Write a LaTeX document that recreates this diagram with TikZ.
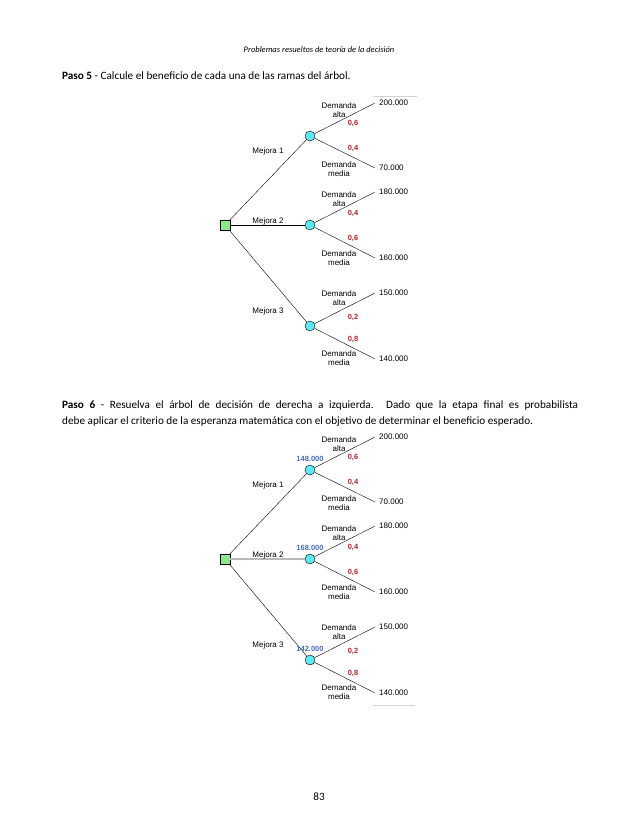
\documentclass[tikz,border=0pt]{standalone}
\usepackage{fontspec}
\setmainfont{Carlito}
\newfontfamily\arialfont{Liberation Sans}
\usetikzlibrary{positioning}
\definecolor{probred}{RGB}{172,38,42}
\definecolor{evblue}{RGB}{70,112,190}
\definecolor{decgreen}{RGB}{140,230,140}
\definecolor{chancecyan}{RGB}{95,232,242}
\tikzset{
myDecision/.style={
	rectangle,draw,fill=decgreen,
	inner sep=0pt,minimum size=10pt
}
, myChance/.style={
	circle,draw,fill=chancecyan,
	inner sep=0pt,minimum size=10pt
}
, myPay/.style={
	inner sep=0pt,font=\arialfont\fontsize{8}{9.6}\selectfont
}
, myLabel/.style={
	inner sep=0pt,align=center,font=\arialfont\fontsize{8}{9.6}\selectfont
}
, myProb/.style={
	inner sep=0pt,text=probred,font=\arialfont\bfseries\fontsize{7.5}{9}\selectfont
}
, myValue/.style={
	inner sep=0pt,text=evblue,font=\arialfont\bfseries\fontsize{7.5}{9}\selectfont
}
% links
, myBranch/.style={thin}
, myChosen/.style={gray!55,line width=1.3pt}
, myStray/.style={gray!35,thin}
, myBody/.style={inner sep=0pt,font=\fontsize{11.2}{15.5}\selectfont}
}

\begin{document}
\begin{tikzpicture}[x=1pt,y=-1pt]
	\useasboundingbox[fill=white] (0,0) rectangle (638,831);
	% page text
	\node[inner sep=0pt,font=\itshape\fontsize{8.5}{10}\selectfont] (Head) at (319,50) {Problemas resueltos de teoría de la decisión};
	\node[myBody,anchor=west] (Paso5) at (62,76) {\textbf{Paso 5} - Calcule el beneficio de cada una de las ramas del árbol.};
	\node[myBody,anchor=north west,text width=516pt,align=justify] (Paso6) at (62,401)
		{\textbf{Paso 6} - Resuelva el árbol de decisión de derecha a izquierda. Dado que la etapa final es probabilista\linebreak debe aplicar el criterio de la esperanza matemática con el objetivo de determinar el beneficio esperado.};
	\node[myBody] (Page) at (319,797) {83};

	%%%%%%%% first tree
	% nodes
	\node[myDecision] (D) at (225,225) {};
	\node[myChance] (A) at (310,136) {};
	\node[myChance] (B) at (310,225) {};
	\node[myChance] (C) at (310,326) {};
	\coordinate (AHi) at (375,103);
	\coordinate (ALo) at (375,168);
	\coordinate (BHi) at (375,192);
	\coordinate (BLo) at (375,258);
	\coordinate (CHi) at (375,293);
	\coordinate (CLo) at (375,359);
	% payoffs
	\node[myPay] (APayHi) [right=4pt of AHi] {200.000};
	\node[myPay] (APayLo) [right=4pt of ALo] {70.000};
	\node[myPay] (BPayHi) [right=4pt of BHi] {180.000};
	\node[myPay] (BPayLo) [right=4pt of BLo] {160.000};
	\node[myPay] (CPayHi) [right=4pt of CHi] {150.000};
	\node[myPay] (CPayLo) [right=4pt of CLo] {140.000};
	% links
	\draw[myBranch] (D) -- (A);
	\draw[myBranch] (D) -- (B);
	\draw[myBranch] (D) -- (C);
	\draw[myBranch] (A) -- (AHi);
	\draw[myBranch] (A) -- (ALo);
	\draw[myBranch] (B) -- (BHi);
	\draw[myBranch] (B) -- (BLo);
	\draw[myBranch] (C) -- (CHi);
	\draw[myBranch] (C) -- (CLo);
	\draw[myStray] (373,96) -- (417,96);
	% labels
	\node[myLabel] (AMejora) at (268,151) {Mejora 1};
	\node[myLabel] (BMejora) at (268,221) {Mejora 2};
	\node[myLabel] (CMejora) at (268,311) {Mejora 3};
	\node[myLabel] (AAlta) at (339,110) {Demanda\\alta};
	\node[myLabel] (AMedia) at (339,169) {Demanda\\media};
	\node[myLabel] (BAlta) at (339,199) {Demanda\\alta};
	\node[myLabel] (BMedia) at (339,258) {Demanda\\media};
	\node[myLabel] (CAlta) at (339,298) {Demanda\\alta};
	\node[myLabel] (CMedia) at (339,358) {Demanda\\media};
	\node[myProb] (AProbHi) at (353,123) {0,6};
	\node[myProb] (AProbLo) at (353,148) {0,4};
	\node[myProb] (BProbHi) at (353,213) {0,4};
	\node[myProb] (BProbLo) at (353,238) {0,6};
	\node[myProb] (CProbHi) at (353,317) {0,2};
	\node[myProb] (CProbLo) at (353,339) {0,8};

	%%%%%%%% second tree
	% nodes
	\node[myDecision] (DD) at (225,559) {};
	\node[myChance] (AA) at (310,470) {};
	\node[myChance] (BB) at (310,559) {};
	\node[myChance] (CC) at (310,660) {};
	\coordinate (AAHi) at (375,437);
	\coordinate (AALo) at (375,502);
	\coordinate (BBHi) at (375,526);
	\coordinate (BBLo) at (375,592);
	\coordinate (CCHi) at (375,627);
	\coordinate (CCLo) at (375,693);
	% payoffs
	\node[myPay] (AAPayHi) [right=4pt of AAHi] {200.000};
	\node[myPay] (AAPayLo) [right=4pt of AALo] {70.000};
	\node[myPay] (BBPayHi) [right=4pt of BBHi] {180.000};
	\node[myPay] (BBPayLo) [right=4pt of BBLo] {160.000};
	\node[myPay] (CCPayHi) [right=4pt of CCHi] {150.000};
	\node[myPay] (CCPayLo) [right=4pt of CCLo] {140.000};
	% links
	\draw[myBranch] (DD) -- (AA);
	\draw[myChosen] (DD) -- (BB);
	\draw[myBranch] (DD) -- (CC);
	\draw[myBranch] (AA) -- (AAHi);
	\draw[myBranch] (AA) -- (AALo);
	\draw[myBranch] (BB) -- (BBHi);
	\draw[myBranch] (BB) -- (BBLo);
	\draw[myBranch] (CC) -- (CCHi);
	\draw[myBranch] (CC) -- (CCLo);
	\draw[myStray] (373,705) -- (415,705);
	% expected values
	\node[myValue] (AAValue) [above=3pt of AA] {148.000};
	\node[myValue] (BBValue) [above=3pt of BB] {168.000};
	\node[myValue] (CCValue) [above=3pt of CC] {142.000};
	% labels
	\node[myLabel] (AAMejora) at (268,485) {Mejora 1};
	\node[myLabel] (BBMejora) at (268,555) {Mejora 2};
	\node[myLabel] (CCMejora) at (268,645) {Mejora 3};
	\node[myLabel] (AAAlta) at (339,444) {Demanda\\alta};
	\node[myLabel] (AAMedia) at (339,503) {Demanda\\media};
	\node[myLabel] (BBAlta) at (339,533) {Demanda\\alta};
	\node[myLabel] (BBMedia) at (339,592) {Demanda\\media};
	\node[myLabel] (CCAlta) at (339,632) {Demanda\\alta};
	\node[myLabel] (CCMedia) at (339,692) {Demanda\\media};
	\node[myProb] (AAProbHi) at (353,457) {0,6};
	\node[myProb] (AAProbLo) at (353,482) {0,4};
	\node[myProb] (BBProbHi) at (353,547) {0,4};
	\node[myProb] (BBProbLo) at (353,572) {0,6};
	\node[myProb] (CCProbHi) at (353,651) {0,2};
	\node[myProb] (CCProbLo) at (353,673) {0,8};
\end{tikzpicture}
\end{document}
